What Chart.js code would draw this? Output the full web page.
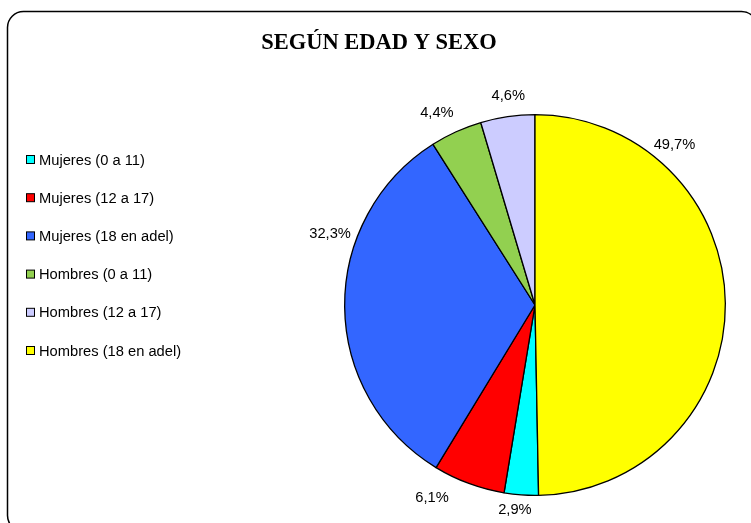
<!DOCTYPE html>
<html>
<head>
<meta charset="utf-8">
<script src="https://cdn.jsdelivr.net/npm/chart.js@4"></script>
<style>
  html, body { margin: 0; padding: 0; background: #fff; }
  #wrap { position: relative; width: 751px; height: 523px; }
</style>
</head>
<body>
<div id="wrap"><canvas id="pie" width="751" height="523"></canvas></div>
<script>
var titleText = "SEGÚN EDAD Y SEXO";
var categories = ["Mujeres (0 a 11)", "Mujeres (12 a 17)", "Mujeres (18 en adel)",
                  "Hombres (0 a 11)", "Hombres (12 a 17)", "Hombres (18 en adel)"];
var values = [2.9, 6.1, 32.3, 4.4, 4.6, 49.7];
var valueLabels = ["2,9%", "6,1%", "32,3%", "4,4%", "4,6%", "49,7%"];
var colors = ['#00FFFF', '#FF0000', '#3366FF', '#92D050', '#CCCCFF', '#FFFF00'];
// where each label sits along its slice (0..1) and how far out from the center
var labelAlong = [0.64, 0.85, 0.67, 0.34, 0.56, 0.23];
var labelDist = [206, 219, 217, 216, 211, 212];

// the pie begins with the first slice after the big yellow one
var startDeg = -90 + values[5] / 100 * 360;

var decor = {
    id: 'decor',
    beforeDraw: function(chart) {
        var c = chart.ctx;
        c.save();
        // rounded frame, running off the right and bottom edges
        c.strokeStyle = '#000';
        c.lineWidth = 1.5;
        c.beginPath();
        c.roundRect(7.5, 11.5, 750, 520, 16);
        c.stroke();
        c.restore();
    },
    afterDraw: function(chart) {
        var c = chart.ctx;
        c.save();
        c.fillStyle = '#000';
        c.font = 'bold 22.5px "Liberation Serif", "Times New Roman", serif';
        c.textAlign = 'center';
        c.textBaseline = 'middle';
        c.fillText(titleText, 379, 43);

        // legend
        c.font = '14.7px "Liberation Sans", Arial, sans-serif';
        c.textAlign = 'left';
        for (var i = 0; i < categories.length; i++) {
            var y = 160 + i * 38.2;
            c.fillStyle = colors[i];
            c.fillRect(26.5, y - 4.5, 8, 8);
            c.strokeStyle = '#000';
            c.lineWidth = 1;
            c.strokeRect(26.5, y - 4.5, 8, 8);
            c.fillStyle = '#000';
            c.fillText(categories[i], 39, y + 0.5);
        }

        // percentage labels
        var meta = chart.getDatasetMeta(0);
        c.textAlign = 'center';
        meta.data.forEach(function(arc, i) {
            var p = arc.getProps(['x', 'y', 'startAngle', 'endAngle'], true);
            var a = p.startAngle + (p.endAngle - p.startAngle) * labelAlong[i];
            c.fillStyle = '#000';
            c.fillText(valueLabels[i], p.x + Math.cos(a) * labelDist[i], p.y + Math.sin(a) * labelDist[i]);
        });
        c.restore();
    }
};

new Chart(document.getElementById('pie'), {
    type: 'pie',
    data: {
        labels: categories,
        datasets: [{
            data: values,
            backgroundColor: colors,
            borderColor: '#000',
            borderWidth: 1.3
        }]
    },
    options: {
        responsive: false,
        animation: false,
        rotation: startDeg + 90,
        layout: { padding: { top: 114, bottom: 27, left: 344, right: 25 } },
        plugins: {
            legend: { display: false },
            title: { display: false },
            tooltip: { enabled: false }
        }
    },
    plugins: [decor]
});
</script>
</body>
</html>
